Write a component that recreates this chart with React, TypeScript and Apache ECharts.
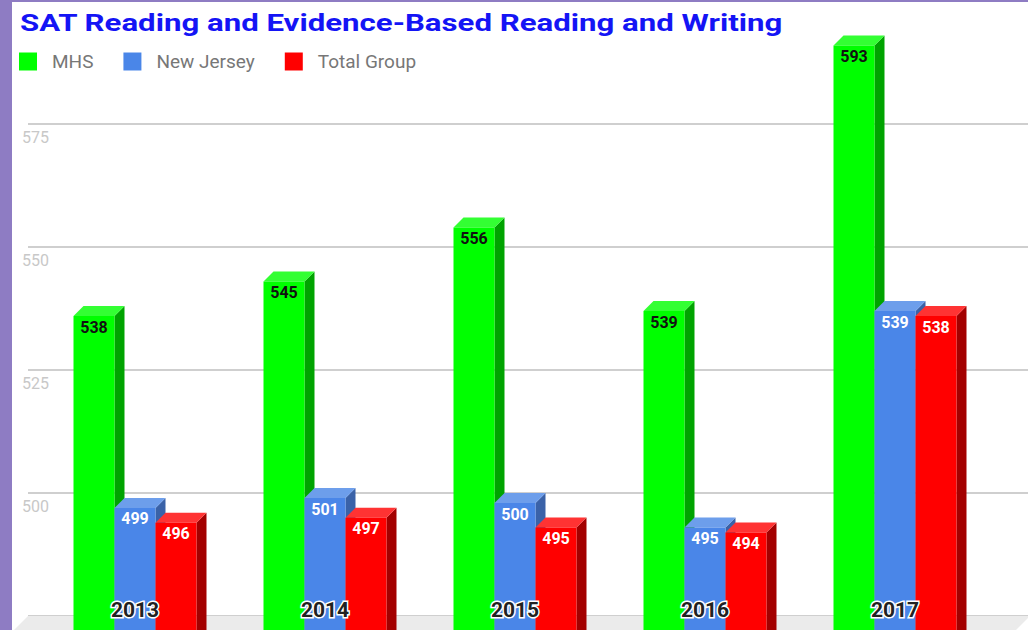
import React, { useEffect, useRef } from "react";
import * as echarts from "echarts";

const TITLE = "SAT Reading and Evidence-Based Reading and Writing";
const YEARS = ["2013", "2014", "2015", "2016", "2017"];
const SERIES_NAMES = ["MHS", "New Jersey", "Total Group"];
const MHS = [538, 545, 556, 539, 593];
const NEW_JERSEY = [499, 501, 500, 495, 539];
const TOTAL_GROUP = [496, 497, 495, 494, 538];
const Y_MIN = 475;
const Y_MAX = 600;
const Y_STEP = 25;

const FRONT = ["#00ff00", "#4a86e8", "#ff0000"];
const SIDE = ["#00a300", "#3a62a8", "#a30000"];
const TOP = ["#33ff33", "#6d9eeb", "#ff3333"];
const LABEL_COLOR = ["#111111", "#ffffff", "#ffffff"];

const BAR_W = 41;
const DEPTH = 10;

function makeRender(si: number) {
  return (params: any, api: any) => {
    const idx = api.value(0);
    const val = api.value(1);
    const [cx, yTop] = api.coord([idx, val]);
    const [, yBase] = api.coord([idx, Y_MIN]);
    const x0 = cx + (si - 1) * BAR_W - BAR_W / 2;
    const fy = yTop + DEPTH;
    const bottom = yBase + 40;
    return {
      type: "group",
      children: [
        {
          type: "polygon",
          shape: {
            points: [
              [x0 + BAR_W, fy],
              [x0 + BAR_W + DEPTH, yTop],
              [x0 + BAR_W + DEPTH, bottom],
              [x0 + BAR_W, bottom],
            ],
          },
          style: { fill: SIDE[si] },
        },
        {
          type: "polygon",
          shape: {
            points: [
              [x0, fy],
              [x0 + DEPTH, yTop],
              [x0 + BAR_W + DEPTH, yTop],
              [x0 + BAR_W, fy],
            ],
          },
          style: { fill: TOP[si] },
        },
        {
          type: "rect",
          shape: { x: x0, y: fy, width: BAR_W, height: bottom - fy },
          style: { fill: FRONT[si] },
        },
        {
          type: "text",
          x: x0 + BAR_W / 2,
          y: fy + 11,
          style: {
            text: String(val),
            fill: LABEL_COLOR[si],
            font: "bold 16px Roboto",
            align: "center",
            verticalAlign: "middle",
          },
        },
      ],
    };
  };
}

export default function App() {
  const ref = useRef<HTMLDivElement>(null);
  useEffect(() => {
    document.body.style.margin = "0";
    const chart = echarts.init(ref.current!, undefined, { renderer: "svg" });
    const datasets = [MHS, NEW_JERSEY, TOTAL_GROUP];
    chart.setOption({
      animation: false,
      backgroundColor: "#ffffff",
      legend: {
        left: 14,
        top: 47,
        itemWidth: 18,
        itemHeight: 18,
        itemGap: 30,
        icon: "rect",
        data: SERIES_NAMES.map((n, i) => ({ name: n, itemStyle: { color: FRONT[i] } })),
        textStyle: {
          color: "#777777",
          fontFamily: "Roboto",
          fontSize: 19,
          padding: [0, 0, 0, 10],
        },
      },
      graphic: [
        {
          type: "text",
          z: 100,
          x: 20,
          y: 23,
          scaleX: 1.3,
          style: {
            text: TITLE,
            fill: "#1414f5",
            font: "bold 24px Roboto",
            align: "left",
            verticalAlign: "middle",
          },
        },
        {
          type: "polygon",
          z: 1,
          shape: {
            points: [
              [28, 616],
              [1028, 616],
              [1028, 618],
              [1016, 630],
              [14, 630],
            ],
          },
          style: { fill: "#ebebeb" },
        },
        { type: "rect", z: 100, shape: { x: 0, y: 0, width: 12, height: 630 }, style: { fill: "#8e7cc3" } },
        { type: "rect", z: 100, shape: { x: 0, y: 0, width: 1028, height: 2 }, style: { fill: "#8e7cc3" } },
      ],
      grid: [
        { left: 28, right: 0, top: 1, bottom: 14 },
        { left: 40, right: 38, top: 1, bottom: 14 },
      ],
      xAxis: [
        { gridIndex: 0, type: "category", data: YEARS, show: false },
        {
          gridIndex: 1,
          type: "category",
          data: YEARS,
          z: 10,
          axisLine: { show: false },
          axisTick: { show: false },
          splitLine: { show: false },
          axisLabel: {
            margin: -17,
            color: "#222222",
            fontFamily: "Roboto",
            fontWeight: "bold",
            fontSize: 21,
            textBorderColor: "#ffffff",
            textBorderWidth: 3,
          },
        },
      ],
      yAxis: [
        {
          gridIndex: 0,
          type: "value",
          min: Y_MIN,
          max: Y_MAX,
          interval: Y_STEP,
          axisLine: { show: false },
          axisTick: { show: false },
          splitLine: { show: true, showMaxLine: false, lineStyle: { color: "#cfcfcf", width: 2 } },
          axisLabel: {
            showMaxLabel: false,
            showMinLabel: false,
            align: "left",
            verticalAlign: "top",
            margin: 6,
            padding: [5, 0, 0, 0],
            color: "#c8c8c8",
            fontFamily: "Roboto",
            fontSize: 16,
          },
        },
        { gridIndex: 1, type: "value", min: Y_MIN, max: Y_MAX, interval: Y_STEP, show: false, splitLine: { show: false } },
      ],
      series: datasets.map((d, si) => ({
        type: "custom",
        name: SERIES_NAMES[si],
        xAxisIndex: 1,
        yAxisIndex: 1,
        itemStyle: { color: FRONT[si] },
        renderItem: makeRender(si),
        data: d.map((v, i) => [i, v]),
        z: 2,
      })),
    });
    return () => chart.dispose();
  }, []);
  return <div ref={ref} style={{ width: 1028, height: 630 }} />;
}
